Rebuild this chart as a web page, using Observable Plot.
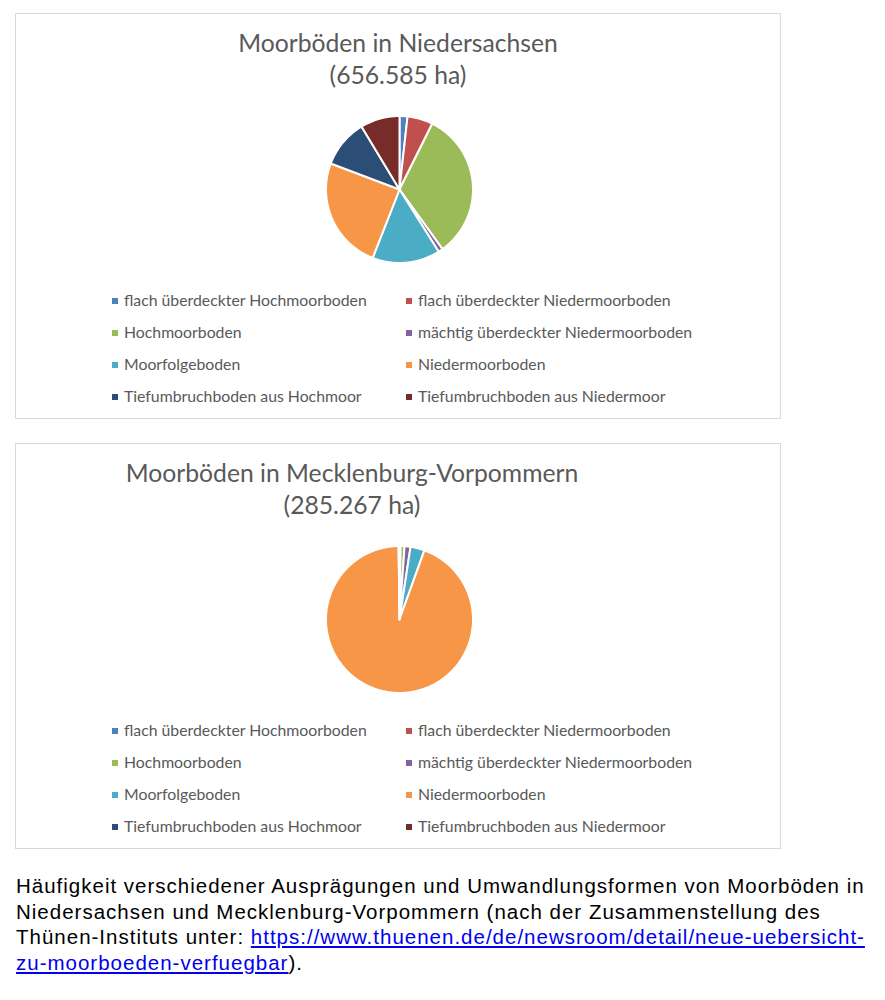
<!DOCTYPE html>
<html>
<head>
<meta charset="utf-8">
<script src="https://cdn.jsdelivr.net/npm/d3@7"></script>
<script src="https://cdn.jsdelivr.net/npm/@observablehq/plot@0.6"></script>
<style>
  html, body { margin: 0; padding: 0; background: #fff; }
  body { width: 885px; height: 1000px; position: relative; overflow: hidden; }
  .box { position: absolute; left: 15px; width: 766px; height: 406px; border: 1px solid #d9d9d9; box-sizing: border-box; }
  .title { position: absolute; font-family: Lato, sans-serif; font-size: 24.7px; color: #595959; text-align: center; white-space: nowrap; line-height: 31px; }
  .pie { position: absolute; }
  .leg { position: absolute; font-family: Lato, sans-serif; font-size: 15.8px; color: #595959; white-space: nowrap; line-height: 18px; }
  .leg .sw { display: inline-block; width: 6px; height: 6px; margin-right: 6px; vertical-align: 2px; }
  .caption { position: absolute; left: 16px; top: 873px; width: 880px; font-family: "Liberation Sans", Arial, sans-serif; font-size: 20.5px; letter-spacing: 1px; line-height: 25.5px; color: #000; white-space: nowrap; }
  .caption a { color: #0000ee; text-decoration: underline; }
</style>
</head>
<body>
<script>
// ---- data ----
const categories = [
  "flach überdeckter Hochmoorboden",
  "flach überdeckter Niedermoorboden",
  "Hochmoorboden",
  "mächtig überdeckter Niedermoorboden",
  "Moorfolgeboden",
  "Niedermoorboden",
  "Tiefumbruchboden aus Hochmoor",
  "Tiefumbruchboden aus Niedermoor"
];
const colors = ["#4F81BD", "#C0504D", "#9BBB59", "#8064A2", "#4BACC6", "#F79646", "#2C4D75", "#772C2A"];
// shares in percent
const niedersachsenShare = [1.75, 5.6, 32.7, 1.0, 14.9, 24.8, 10.6, 8.65];
const mvShare = [0.1, 0.15, 0.85, 1.3, 3.1, 94.3, 0.05, 0.15];
const titles = [
  ["Moorböden in Niedersachsen", "(656.585 ha)"],
  ["Moorböden in Mecklenburg-Vorpommern", "(285.267 ha)"]
];

const R = 73.5;
function piePolygons(values) {
  const arcs = d3.pie().sort(null).value(d => d)(values);
  const pts = [];
  arcs.forEach((a, i) => {
    const name = categories[i];
    if (a.endAngle - a.startAngle <= 0) return;
    pts.push({name, x: 0, y: 0});
    const n = Math.max(2, Math.ceil((a.endAngle - a.startAngle) / (Math.PI / 360)));
    for (let k = 0; k <= n; k++) {
      const t = a.startAngle + (a.endAngle - a.startAngle) * k / n;
      pts.push({name, x: R * Math.sin(t), y: R * Math.cos(t)});
    }
    pts.push({name, x: 0, y: 0});
  });
  return pts;
}

function drawPie(values) {
  return Plot.plot({
    width: 160, height: 160, margin: 0,
    x: {domain: [-80, 80], axis: null},
    y: {domain: [-80, 80], axis: null},
    color: {domain: categories, range: colors},
    marks: [
      Plot.line(piePolygons(values), {x: "x", y: "y", z: "name", fill: "name", stroke: "white", strokeWidth: 2, strokeLinejoin: "round", curve: "linear"})
    ]
  });
}

const boxes = [
  {top: 13, data: niedersachsenShare, titleX: 398, cy: 188.5},
  {top: 443, data: mvShare, titleX: 352, cy: 619}
];

boxes.forEach((b, bi) => {
  const box = document.createElement("div");
  box.className = "box";
  box.style.top = b.top + "px";
  document.body.appendChild(box);

  titles[bi].forEach((t, li) => {
    const d = document.createElement("div");
    d.className = "title";
    d.textContent = t;
    d.style.left = (b.titleX - 300) + "px";
    d.style.width = "600px";
    d.style.top = (b.top + 14 + li * 32) + "px";
    document.body.appendChild(d);
  });

  const svg = drawPie(b.data);
  const wrap = document.createElement("div");
  wrap.className = "pie";
  wrap.style.left = (398.5 - 80) + "px";
  wrap.style.top = (b.cy - 80) + "px";
  wrap.appendChild(svg);
  document.body.appendChild(wrap);

  categories.forEach((c, i) => {
    const row = Math.floor(i / 2), col = i % 2;
    const d = document.createElement("div");
    d.className = "leg";
    d.style.left = (col === 0 ? 112 : 406) + "px";
    d.style.top = (b.top + 278 + row * 32) + "px";
    const sw = document.createElement("span");
    sw.className = "sw";
    sw.style.background = colors[i];
    d.appendChild(sw);
    d.appendChild(document.createTextNode(c));
    document.body.appendChild(d);
  });
});

const cap = document.createElement("div");
cap.className = "caption";
cap.innerHTML = 'Häufigkeit verschiedener Ausprägungen und Umwandlungsformen von Moorböden in<br>Niedersachsen und Mecklenburg-Vorpommern (nach der Zusammenstellung des<br>Thünen-Instituts unter: <a href="https://www.thuenen.de/de/newsroom/detail/neue-uebersicht-zu-moorboeden-verfuegbar">https://www.thuenen.de/de/newsroom/detail/neue-uebersicht-<br>zu-moorboeden-verfuegbar</a>).';
document.body.appendChild(cap);
</script>
</body>
</html>
